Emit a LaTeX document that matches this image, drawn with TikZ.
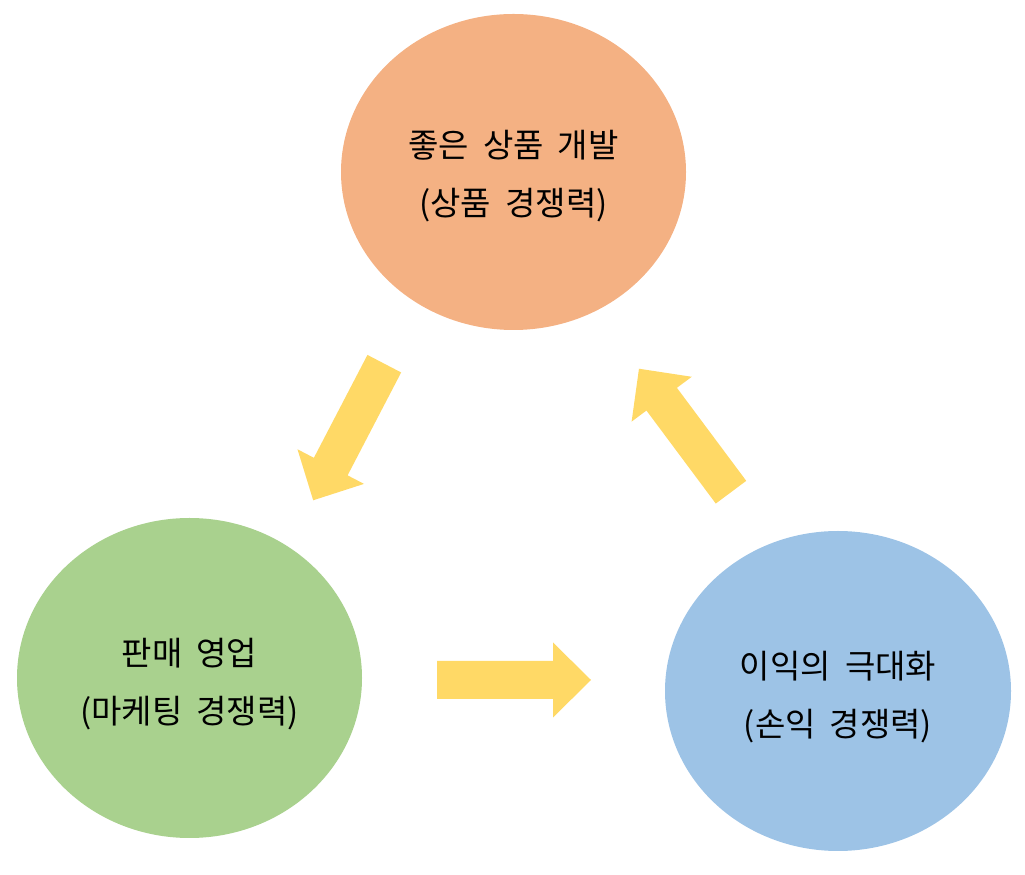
\documentclass[tikz,border=0pt]{standalone}
\usepackage{fontspec}
\newfontfamily\kr[WordSpace=1.9]{Noto Sans CJK KR}
\usetikzlibrary{shapes.geometric}
\definecolor{orangefill}{HTML}{F4B183}
\definecolor{greenfill}{HTML}{A9D18E}
\definecolor{bluefill}{HTML}{9DC3E6}
\definecolor{arrowfill}{HTML}{FFD966}
\tikzset{
  bubble/.style={ellipse, inner sep=0pt, draw=none},
  label text/.style={align=center, font=\kr\fontsize{33}{58}\selectfont, inner sep=0pt},
  blockarrow/.pic={\fill[arrowfill] (0,-19) -- (116,-19) -- (116,-37.5) -- (154,0) -- (116,37.5) -- (116,19) -- (0,19) -- cycle;}
}
\begin{document}
\begin{tikzpicture}[x=1pt,y=1pt]
\useasboundingbox (0,0) rectangle (1025,875);
\node[bubble, fill=orangefill, minimum width=345, minimum height=316] (top) at (513.5,703) {};
\node[bubble, fill=greenfill, minimum width=345, minimum height=320] (left) at (189.5,197) {};
\node[bubble, fill=bluefill, minimum width=346, minimum height=320] (right) at (838,184) {};
\node[label text] (toptext) at (513.5,699) {좋은 상품 개발\\(상품 경쟁력)};
\node[label text] (lefttext) at (189.5,190.5) {판매 영업\\(마케팅 경쟁력)};
\node[label text] (righttext) at (838,178) {이익의 극대화\\(손익 경쟁력)};
\pic[rotate=242.5] (arrowA) at (384.3,511.3) {blockarrow};
\pic (arrowB) at (437,195) {blockarrow};
\pic[rotate=126.7] (arrowC) at (731,382.8) {blockarrow};
\end{tikzpicture}
\end{document}
